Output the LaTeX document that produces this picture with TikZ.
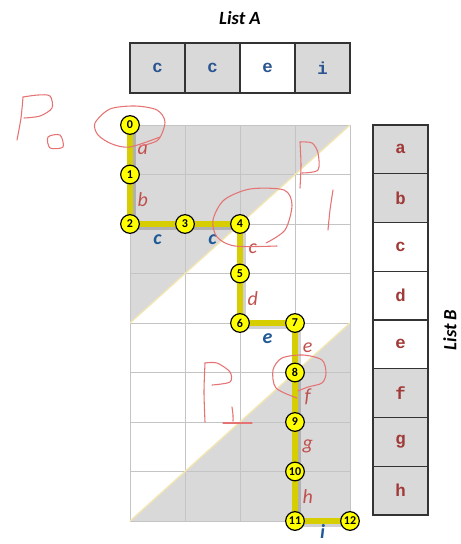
\documentclass[tikz,border=0pt]{standalone}
\usepackage{fontspec}
\setsansfont{Carlito}
\newfontfamily\cellfont{Liberation Mono}
\usetikzlibrary{positioning, calc}

\begin{document}
\begin{tikzpicture}[
    every node/.style={font=\sffamily},
    % pixel coordinates of the 461 x 544 frame, y pointing down
    x=0.75pt, y=-0.75pt,
]

% ---------------------------------------------------------------- colours
\definecolor{cellgray}{HTML}{D9D9D9}
\definecolor{gridline}{HTML}{C4C4C4}
\definecolor{diagline}{HTML}{F3E6B0}
\definecolor{trackyellow}{HTML}{D6CE00}
\definecolor{dotyellow}{HTML}{FFFF00}
\definecolor{lettera}{HTML}{2A5590}
\definecolor{letterb}{HTML}{A03A38}
\definecolor{labred}{HTML}{C0504D}
\definecolor{labblue}{HTML}{1F5A96}
\definecolor{penred}{HTML}{E57373}

\tikzset{
    cellbox/.style={draw=black!80, line width=1pt, minimum width=41.25pt,
                    inner sep=0pt, font=\cellfont\bfseries\fontsize{13}{14}\selectfont},
    track/.style={trackyellow, line width=4.5pt},
    trackshadow/.style={black, opacity=0.18, line width=4.5pt},
    dot/.style={circle, draw=black, line width=0.9pt, fill=dotyellow,
                minimum size=14pt, inner sep=0pt,
                font=\sffamily\bfseries\fontsize{9}{10}\selectfont},
    vlab/.style={labred, xshift=9.5pt,
                 font=\sffamily\itshape\fontsize{15}{16}\selectfont},
    hlab/.style={labblue, yshift=-12pt,
                 font=\sffamily\itshape\bfseries\fontsize{15}{16}\selectfont},
    lowlab/.style={hlab, yshift=4.5pt, inner sep=0pt},
    pen/.style={penred, line width=0.8pt, line cap=round, line join=round},
}

\useasboundingbox (0,0) rectangle (461,544);

% ---------------------------------------------------------------- titles
\node[font=\sffamily\bfseries\itshape\fontsize{14}{16}\selectfont] (titleA)
    at (240,18) {List A};
\node[font=\sffamily\bfseries\itshape\fontsize{14}{16}\selectfont, rotate=90,
      inner sep=1pt] (titleB) at (450,330) {List B};

% ---------------------------------------------------------------- list A
\foreach \ch/\fc [count=\i] in {c/cellgray, c/cellgray, e/white, i/cellgray} {
    \node[cellbox, fill=\fc, text=lettera, minimum height=37.5pt]
        (la\i) at ({102.5+55*\i}, 68) {\ch};
}

% ---------------------------------------------------------------- list B
\foreach \ch/\fc [count=\i] in {a/cellgray, b/cellgray, c/white, d/white,
                               e/white, f/cellgray, g/cellgray, h/cellgray} {
    \node[cellbox, fill=\fc, text=letterb, minimum height=36.5pt]
        (lb\i) at (400.5, {100.6+48.75*\i}) {\ch};
}

% ---------------------------------------------------------------- grid
\fill[white] (130,125) rectangle (350,521);
\fill[cellgray] (130,125) -- (350,125) -- (130,323) -- cycle;
\fill[cellgray] (350,323) -- (350,521) -- (130,521) -- cycle;
\foreach \c in {0,...,4}
    \draw[gridline, line width=0.6pt] ({130+55*\c},125) -- ({130+55*\c},521);
\foreach \r in {0,...,8}
    \draw[gridline, line width=0.6pt] (130,{125+49.5*\r}) -- (350,{125+49.5*\r});
\draw[diagline, line width=1pt] (130,323) -- (350,125);
\draw[diagline, line width=1pt] (350,323) -- (130,521);

% ---------------------------------------------------------------- the path
\foreach \name/\cx/\ry in {p0/0/0, p1/0/1, p2/0/2, p3/1/2, p4/2/2, p5/2/3,
                           p6/2/4, p7/3/4, p8/3/5, p9/3/6, p10/3/7,
                           p11/3/8, p12/4/8}
    \coordinate (\name) at ({130+55*\cx}, {125+49.5*\ry});

\foreach \s/\t in {p0/p1, p1/p2, p2/p3, p3/p4, p4/p5, p5/p6, p6/p7, p7/p8,
                   p8/p9, p9/p10, p10/p11, p11/p12}
    \draw[trackshadow] ([shift={(3,3)}]\s) -- ([shift={(3,3)}]\t);

\foreach \s/\t/\lab/\sty in {p0/p1/a/vlab, p1/p2/b/vlab, p2/p3/c/hlab,
                            p3/p4/c/hlab, p4/p5/c/vlab, p5/p6/d/vlab,
                            p6/p7/e/hlab, p7/p8/e/vlab, p8/p9/f/vlab,
                            p9/p10/g/vlab, p10/p11/h/vlab, p11/p12/i/lowlab}
    \draw[track] (\s) -- node[\sty] {\lab} (\t);

\foreach \k in {0,...,12}
    \node[dot] (n\k) at (p\k) {\k};

% ---------------------------------------------------------------- pen marks
% P0
\draw[pen] plot[smooth] coordinates {(23,97) (21,118) (17,140)};
\draw[pen] plot[smooth] coordinates {(23,97) (38,95) (50,96) (52,108) (40,116) (24,118)};
\draw[pen] plot[smooth cycle] coordinates {(48,137) (60,135) (63,147) (50,148)};
\draw[pen] plot[smooth] coordinates {(160,137) (130,147) (112,144) (98,135) (95,123)
    (110,109) (135,106) (157,110) (165,122) (158,140) (140,146)};
% P1
\draw[pen] plot[smooth] coordinates {(300,142) (301,165) (300,188)};
\draw[pen] plot[smooth] coordinates {(300,142) (312,143) (318,153) (318,170) (302,173)};
\draw[pen] plot[smooth] coordinates {(333,190) (330,210) (328,230)};
\draw[pen] plot[smooth] coordinates {(266,243) (285,230) (292,205) (284,190)
    (250,189) (224,200) (213,220) (217,237) (235,246) (277,246)};
% P2
\draw[pen] plot[smooth] coordinates {(205,363) (204,392) (205,422)};
\draw[pen] plot[smooth] coordinates {(205,363) (217,363) (230,372) (230,382) (212,385)};
\draw[pen] plot[smooth] coordinates {(232,407) (233,415) (233,421)};
\draw[pen] (223,423) -- (252,423);
\draw[pen] plot[smooth] coordinates {(297,398) (276,388) (273,370) (282,358)
    (303,355) (322,360) (326,373) (322,383) (308,387) (298,391)};

\end{tikzpicture}
\end{document}
